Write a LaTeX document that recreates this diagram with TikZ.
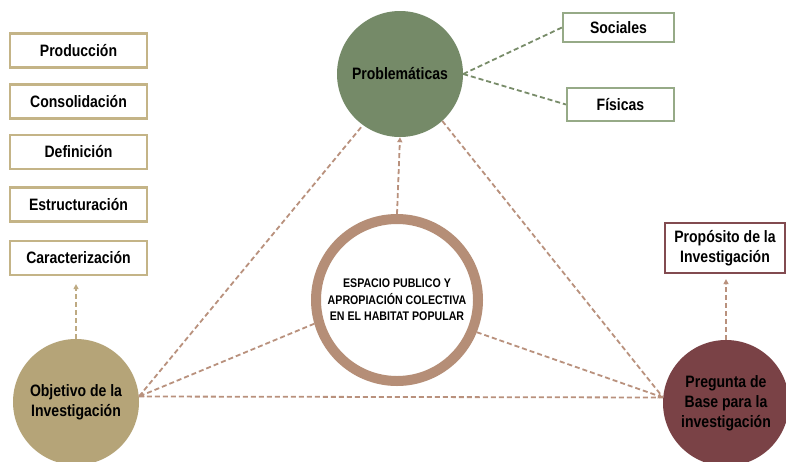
\documentclass[tikz,border=0pt]{standalone}
\usepackage{fontspec}
\newfontfamily\lbl{Liberation Sans}[FakeStretch=0.85]
\usetikzlibrary{arrows.meta}
\definecolor{tanB}{RGB}{196,180,135}
\definecolor{tanF}{RGB}{181,164,120}
\definecolor{tanL}{RGB}{190,170,130}
\definecolor{grnF}{RGB}{117,138,104}
\definecolor{grnB}{RGB}{150,170,135}
\definecolor{grnL}{RGB}{120,140,105}
\definecolor{ringC}{RGB}{181,142,119}
\definecolor{brnL}{RGB}{185,145,125}
\definecolor{marF}{RGB}{122,66,70}
\definecolor{marB}{RGB}{130,75,80}
\begin{document}
\begin{tikzpicture}[x=1pt,y=-1pt,
  lbltxt/.style={font=\lbl\bfseries\fontsize{16.5}{20}\selectfont},
  boxn/.style={draw=#1, line width=2.2pt, fill=white, inner sep=0pt, align=center, lbltxt},
  circn/.style={circle, fill=#1, minimum size=126pt, inner sep=0pt, align=center, lbltxt},
  dl/.style={draw=#1, line width=1.8pt, dash pattern=on 5pt off 3pt},
  tip/.style={-{Triangle[length=5pt,width=5pt]}}
]
\clip (0,0) rectangle (786,461);
\fill[white] (0,0) rectangle (786,461);

% left boxes
\node[boxn=tanB, minimum width=137pt, minimum height=34pt] (prod) at (78.5,50.5) {Producción};
\node[boxn=tanB, minimum width=137pt, minimum height=34pt] (cons) at (78.5,101.5) {Consolidación};
\node[boxn=tanB, minimum width=137pt, minimum height=34pt] (defi) at (78.5,152) {Definición};
\node[boxn=tanB, minimum width=137pt, minimum height=34pt] (estr) at (78.5,204.5) {Estructuración};
\node[boxn=tanB, minimum width=137pt, minimum height=34pt] (cara) at (78.5,258) {Caracterización};

% right boxes
\node[boxn=grnB, minimum width=111pt, minimum height=29pt] (soc) at (618.5,27.5) {Sociales};
\node[boxn=grnB, minimum width=107pt, minimum height=33pt] (fis) at (620.5,104.5) {Físicas};
\node[boxn=marB, minimum width=120pt, minimum height=50pt] (prop) at (725,248) {Propósito de la\\Investigación};

% circles
\node[circn=grnF] (prob) at (400,74) {Problemáticas};
\node[circn=tanF] (obj) at (76,402) {Objetivo de la\\Investigación};
\node[circn=marF] (preg) at (726,403) {Pregunta de\\Base para la\\investigación};
\node[circle, draw=ringC, line width=10pt, fill=white, minimum size=162pt, inner sep=0pt, align=center,
      font=\lbl\bfseries\fontsize{12.5}{16.5}\selectfont] (cen) at (397,300)
      {ESPACIO PUBLICO Y\\APROPIACIÓN COLECTIVA\\EN EL HABITAT POPULAR};

% green connectors
\draw[dl=grnL] (prob.east) -- (soc.west);
\draw[dl=grnL] (prob.east) -- (fis.west);

% triangle
\coordinate (oP) at (obj.5);
\coordinate (pP) at (preg.175);
\draw[dl=brnL] (oP) -- (prob.234);
\draw[dl=brnL] (prob.312) -- (pP);
\draw[dl=brnL] (oP) -- (pP);

% center links
\draw[dl=brnL, tip] (cen.north) -- (prob.south);
\draw[dl=brnL, tip] (cen.196) -- (oP);
\draw[dl=brnL, tip] (cen.338) -- (pP);

% vertical arrows
\draw[dl=tanL, tip, shorten >=8pt] (obj.north) -- (obj.north |- cara.south);
\draw[dl=brnL, tip, shorten >=5pt] (preg.north) -- (preg.north |- prop.south);
\end{tikzpicture}
\end{document}
